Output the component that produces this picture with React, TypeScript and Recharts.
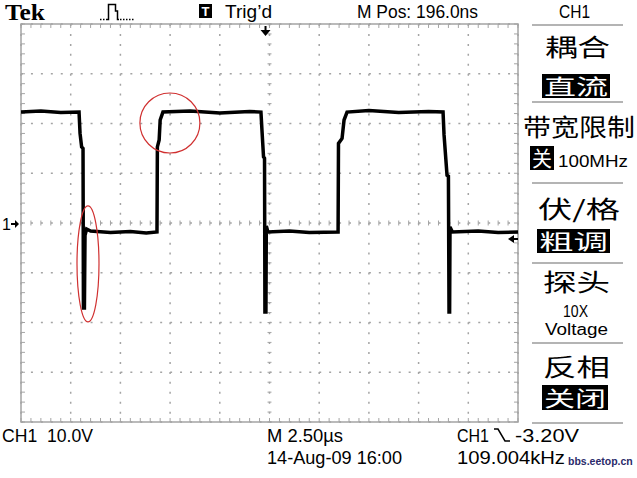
import React from 'react';
import {
  ComposedChart,
  Line,
  XAxis,
  YAxis,
  CartesianGrid,
  ReferenceLine,
  ReferenceArea,
  ReferenceDot,
} from 'recharts';

// time in microseconds (2.50 us / div, 10 divisions)
const timeUs = [
  0, 1.0, 2.0, 2.92, 2.97, 3.05, 3.12, 3.14, 3.19, 3.22, 3.3, 3.5, 4.5, 5.5, 6.3, 6.84,
  6.86, 6.95, 7.0, 7.14, 8.5, 10.0, 11.5, 12.07, 12.12, 12.2, 12.25, 12.27, 12.32, 12.34,
  12.42, 13.5, 14.5, 15.95, 15.97, 16.15, 16.25, 16.4, 17.5, 19.0, 20.5, 21.23, 21.28,
  21.43, 21.5, 21.53, 21.56, 21.58, 21.7, 23.0, 24.0, 25.0,
];
// CH1 voltage (10.0 V / div)
const volts = [
  22.3, 22.5, 22.2, 22.3, 18.0, 15.3, 15.0, -17.1, -17.1, -2.5, -1.2, -1.6, -1.9, -1.7, -2.0, -1.8,
  15.3, 16.7, 20.7, 22.3, 22.5, 22.1, 22.4, 22.3, 18.7, 13.3, 13.0, -17.9, -17.9, -0.6,
  -1.8, -1.6, -1.9, -1.8, 16.0, 17.0, 20.7, 22.3, 22.6, 22.2, 22.4, 22.3, 17.7,
  9.6, 9.4, -17.9, -17.9, -0.8, -1.8, -1.6, -1.9, -1.8,
];

const majorX = [0, 2.5, 5, 7.5, 10, 12.5, 15, 17.5, 20, 22.5, 25];
const majorY = [-40, -30, -20, -10, 0, 10, 20, 30, 40];
const minorX = Array.from({ length: 51 }, (_, i) => i * 0.5);
const minorY = Array.from({ length: 41 }, (_, i) => -40 + i * 2);

const triggerLevel = -3.2;
const triggerTime = 12.3;
const circleMark = { t: 7.49, v: 20.1 };
const ellipseMark = { t: 3.37, v: -8.2 };

const data = timeUs.map((t, i) => ({ t, v: volts[i] }));

const GRID = '#a4a4a4';
const SANS = '"Liberation Sans", Arial, sans-serif';
const CJK = '"Noto Sans CJK SC", sans-serif';

const tickLines = () => {
  const els: React.ReactNode[] = [];
  minorX.forEach((x, i) => {
    els.push(<ReferenceLine key={'tt' + i} segment={[{ x, y: 40 }, { x, y: 39.2 }]} stroke={GRID} />);
    els.push(<ReferenceLine key={'tb' + i} segment={[{ x, y: -40 }, { x, y: -39.2 }]} stroke={GRID} />);
    els.push(<ReferenceLine key={'tc' + i} segment={[{ x, y: -0.5 }, { x, y: 0.5 }]} stroke={GRID} />);
  });
  minorY.forEach((y, i) => {
    els.push(<ReferenceLine key={'tl' + i} segment={[{ x: 0, y }, { x: 0.2, y }]} stroke={GRID} />);
    els.push(<ReferenceLine key={'tr' + i} segment={[{ x: 25, y }, { x: 24.8, y }]} stroke={GRID} />);
    els.push(<ReferenceLine key={'tv' + i} segment={[{ x: 12.4, y }, { x: 12.6, y }]} stroke={GRID} />);
  });
  return els;
};

const Inv = ({ x, y, w, h, text, size = 21 }: any) => (
  <g>
    <rect x={x} y={y} width={w} height={h} fill="#000" />
    <text
      x={x + 2}
      y={y + h - 4}
      fill="#fff"
      fontFamily={CJK}
      fontSize={size}
      textLength={w - 4}
      lengthAdjust="spacingAndGlyphs"
    >
      {text}
    </text>
  </g>
);

const Cjk = ({ x, y, w, text }: any) => (
  <text x={x} y={y} fontFamily={CJK} fontSize={24} textLength={w} lengthAdjust="spacingAndGlyphs">
    {text}
  </text>
);

export default function App() {
  return (
    <div style={{ position: 'absolute', left: 0, top: 0, width: 637, height: 478, background: '#fff', overflow: 'hidden' }}>
      <ComposedChart width={637} height={478} data={data} margin={{ top: 24, right: 119, bottom: 56, left: 21 }}>
        <XAxis dataKey="t" type="number" domain={[0, 25]} ticks={majorX} hide allowDataOverflow />
        <YAxis type="number" domain={[-40, 40]} ticks={majorY} hide allowDataOverflow />
        <CartesianGrid stroke={GRID} strokeDasharray="2 7.94" strokeWidth={1.5} />
        <ReferenceArea x1={0} x2={25} y1={-40} y2={40} fill="none" stroke={GRID} strokeWidth={1.5} fillOpacity={0} />
        {tickLines()}
        <Line
          dataKey="v"
          type="linear"
          stroke="#000"
          strokeWidth={3.5}
          dot={false}
          isAnimationActive={false}
        />
        <ReferenceDot x={circleMark.t} y={circleMark.v} r={30} fill="none" stroke="#d03030" strokeWidth={1.2} />
        <ReferenceDot
          x={ellipseMark.t}
          y={ellipseMark.v}
          shape={(p: any) => (
            <ellipse cx={p.cx} cy={p.cy} rx={11} ry={58} fill="none" stroke="#d03030" strokeWidth={1.2} />
          )}
        />
        <ReferenceDot
          x={25}
          y={triggerLevel}
          ifOverflow="visible"
          shape={(p: any) => (
            <path
              d={`M${p.cx - 10},${p.cy} L${p.cx - 4},${p.cy - 4} L${p.cx - 4},${p.cy - 1} L${p.cx},${p.cy - 1} L${p.cx},${p.cy + 1} L${p.cx - 4},${p.cy + 1} L${p.cx - 4},${p.cy + 4} Z`}
              fill="#000"
            />
          )}
        />
        <ReferenceDot
          x={triggerTime}
          y={40}
          ifOverflow="visible"
          shape={(p: any) => (
            <path
              d={`M${p.cx - 1},${p.cy + 2} L${p.cx + 1},${p.cy + 2} L${p.cx + 1},${p.cy + 6} L${p.cx + 5},${p.cy + 6} L${p.cx},${p.cy + 12} L${p.cx - 5},${p.cy + 6} L${p.cx - 1},${p.cy + 6} Z`}
              fill="#000"
            />
          )}
        />
      </ComposedChart>
      <svg width={637} height={478} style={{ position: 'absolute', left: 0, top: 0, pointerEvents: 'none' }}>
        {/* header */}
        <text x={5} y={20} fontFamily='"Liberation Serif", "Times New Roman", serif' fontWeight="bold" fontSize={23} textLength={40} lengthAdjust="spacingAndGlyphs">Tek</text>
        <line x1={100} y1={19.5} x2={107} y2={19.5} stroke="#000" strokeWidth={1.5} strokeDasharray="1.5 1.5" />
        <polyline points="107,19.5 108.5,19.5 108.5,4.5 115.5,4.5 115.5,11 117.5,11 117.5,19.5 119,19.5" fill="none" stroke="#000" strokeWidth={1.5} />
        <line x1={120} y1={19.5} x2={135} y2={19.5} stroke="#000" strokeWidth={1.5} strokeDasharray="1.5 1.5" />
        <rect x={199} y={4} width={13} height={14} fill="#000" />
        <text x={205.5} y={16} fill="#fff" fontFamily={SANS} fontWeight="bold" fontSize={13} textAnchor="middle">T</text>
        <text x={225} y={18} fontFamily={SANS} fontSize={18} textLength={47} lengthAdjust="spacingAndGlyphs">Trig’d</text>
        <text x={357} y={18} fontFamily={SANS} fontSize={18} textLength={121} lengthAdjust="spacingAndGlyphs">M Pos: 196.0ns</text>
        <text x={559} y={18} fontFamily={SANS} fontSize={18} textLength={31} lengthAdjust="spacingAndGlyphs">CH1</text>

        {/* ground marker */}
        <text x={2} y={230} fontFamily={SANS} fontSize={16}>1</text>
        <path d="M11,223 L15,223 L15,220 L19,224 L15,228 L15,225 L11,225 Z" fill="#000" />

        {/* right menu */}
        {[25, 102, 183, 263, 343, 423].map((y) => (
          <line key={y} x1={532} x2={623} y1={y} y2={y} stroke="#b4b4b4" strokeWidth={2} />
        ))}
        <Cjk x={545} y={56} w={65} text="耦合" />
        <Inv x={542} y={74} w={68} h={24} text="直流" />
        <Cjk x={523} y={136} w={112} text="带宽限制" />
        <Inv x={530} y={146} w={24} h={24} text="关" />
        <text x={558} y={167} fontFamily={SANS} fontSize={16} textLength={70} lengthAdjust="spacingAndGlyphs">100MHz</text>
        <Cjk x={538} y={218} w={82} text="伏/格" />
        <Inv x={537} y={229} w={73} h={24} text="粗调" />
        <Cjk x={543} y={291} w={67} text="探头" />
        <text x={563} y={317} fontFamily={SANS} fontSize={16} textLength={25} lengthAdjust="spacingAndGlyphs">10X</text>
        <text x={545} y={335} fontFamily={SANS} fontSize={16} textLength={63} lengthAdjust="spacingAndGlyphs">Voltage</text>
        <Cjk x={543} y={376} w={67} text="反相" />
        <Inv x={542} y={385} w={66} h={25} text="关闭" />

        {/* bottom status */}
        <text x={2} y={442} fontFamily={SANS} fontSize={18} xmlSpace="preserve" textLength={91} lengthAdjust="spacingAndGlyphs">CH1  10.0V</text>
        <text x={267} y={442} fontFamily={SANS} fontSize={18} textLength={76} lengthAdjust="spacingAndGlyphs">M 2.50µs</text>
        <text x={267} y={464} fontFamily={SANS} fontSize={18} textLength={135} lengthAdjust="spacingAndGlyphs">14-Aug-09 16:00</text>
        <text x={457} y={442} fontFamily={SANS} fontSize={18} textLength={32} lengthAdjust="spacingAndGlyphs">CH1</text>
        <polyline points="494,429 498,429 505,441 510,441" fill="none" stroke="#000" strokeWidth={1.5} />
        <text x={515} y={442} fontFamily={SANS} fontSize={18} textLength={64} lengthAdjust="spacingAndGlyphs">-3.20V</text>
        <text x={457} y={464} fontFamily={SANS} fontSize={18} textLength={108} lengthAdjust="spacingAndGlyphs">109.004kHz</text>
        <text x={568} y={465} fontFamily={SANS} fontWeight="bold" fontSize={10.5} fill="#2a2a6a">bbs.eetop.cn</text>
      </svg>
    </div>
  );
}
